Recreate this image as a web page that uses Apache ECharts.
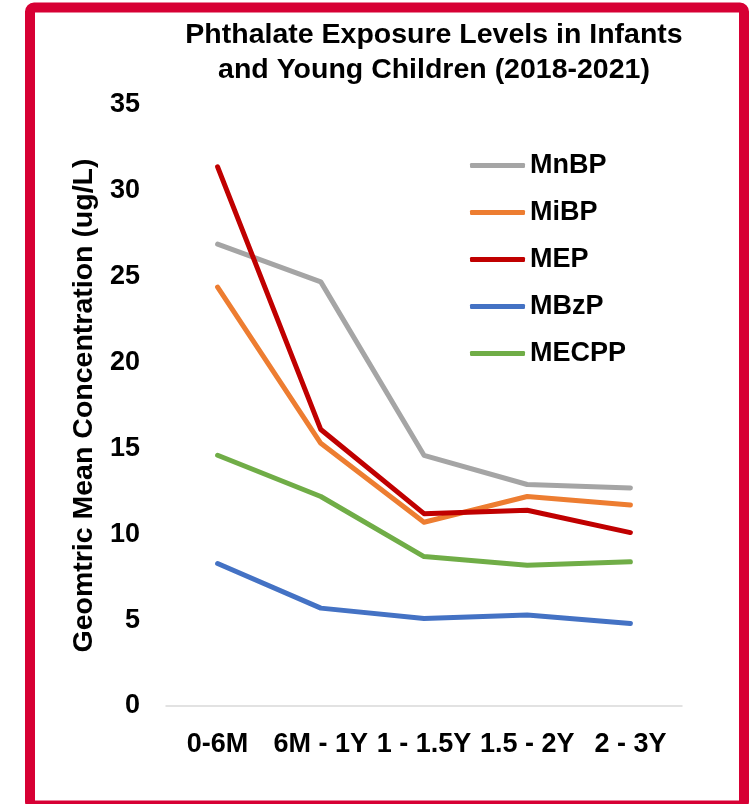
<!DOCTYPE html>
<html>
<head>
<meta charset="utf-8">
<script src="https://cdn.jsdelivr.net/npm/echarts@6/dist/echarts.min.js"></script>
<style>
  html, body { margin: 0; padding: 0; background: #fff; }
  #chart { width: 754px; height: 804px; }
</style>
</head>
<body>
<div id="chart"></div>
<script>
// age groups on the x axis
const ageGroups = ['0-6M', '6M - 1Y', '1 - 1.5Y', '1.5 - 2Y', '2 - 3Y'];

// geometric mean concentration (ug/L)
const mnbp  = [26.9, 24.7, 14.6, 12.9, 12.7];
const mibp  = [24.4, 15.3, 10.7, 12.2, 11.7];
const mep   = [31.4, 16.1, 11.2, 11.4, 10.1];
const mbzp  = [8.3, 5.7, 5.1, 5.3, 4.8];
const mecpp = [14.6, 12.2, 8.7, 8.2, 8.4];

const chart = echarts.init(document.getElementById('chart'));

const font = '"Liberation Sans", Arial, sans-serif';

function lineSeries(name, data, color) {
    return {
        name: name,
        type: 'line',
        data: data,
        symbol: 'none',
        lineStyle: { width: 5, color: color, cap: 'round', join: 'round' },
        itemStyle: { color: color }
    };
}

chart.setOption({
    animation: false,
    backgroundColor: '#fff',
    // red frame round the chart
    graphic: [{
        type: 'rect',
        shape: { x: 30, y: 7.5, width: 714, height: 798, r: 4 },
        style: { fill: 'none', stroke: '#D70034', lineWidth: 10 },
        z: 100
    }],
    title: {
        text: 'Phthalate Exposure Levels in Infants\nand Young Children (2018-2021)',
        left: 429,
        top: 13,
        textAlign: 'center',
        textStyle: {
            fontFamily: font,
            fontSize: 28.5,
            fontWeight: 'bold',
            color: '#000',
            lineHeight: 35
        }
    },
    legend: {
        orient: 'vertical',
        left: 465,
        top: 147,
        itemWidth: 55,
        itemHeight: 5,
        itemGap: 20,
        icon: 'roundRect',
        textStyle: {
            fontFamily: font,
            fontSize: 27,
            fontWeight: 'bold',
            color: '#000',
            lineHeight: 27
        },
        data: ['MnBP', 'MiBP', 'MEP', 'MBzP', 'MECPP']
    },
    grid: { left: 166, right: 72, top: 105, bottom: 98 },
    xAxis: {
        type: 'category',
        data: ageGroups,
        axisLine: { lineStyle: { color: '#D9D9D9', width: 1.5 } },
        axisTick: { show: false },
        axisLabel: {
            fontFamily: font,
            fontSize: 27,
            fontWeight: 'bold',
            color: '#000',
            margin: 25,
            interval: 0,
            hideOverlap: false
        }
    },
    yAxis: {
        type: 'value',
        min: 0,
        max: 35,
        interval: 5,
        name: 'Geomtric Mean Concentration (ug/L)',
        nameLocation: 'middle',
        nameGap: 66,
        nameTextStyle: {
            fontFamily: font,
            fontSize: 28.5,
            fontWeight: 'bold',
            color: '#000'
        },
        axisLine: { show: false },
        axisTick: { show: false },
        splitLine: { show: false },
        axisLabel: {
            fontFamily: font,
            fontSize: 27,
            fontWeight: 'bold',
            color: '#000',
            margin: 26
        }
    },
    series: [
        lineSeries('MnBP', mnbp, '#A5A5A5'),
        lineSeries('MiBP', mibp, '#ED7D31'),
        lineSeries('MEP', mep, '#C00000'),
        lineSeries('MBzP', mbzp, '#4472C4'),
        lineSeries('MECPP', mecpp, '#70AD47')
    ]
});
</script>
</body>
</html>
